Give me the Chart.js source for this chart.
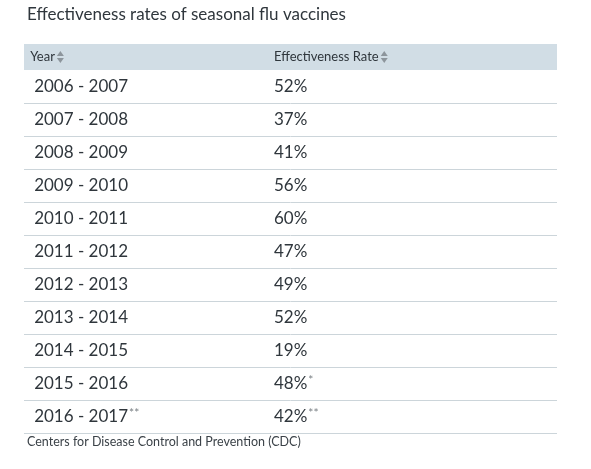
<!DOCTYPE html>
<html>
<head>
<meta charset="utf-8">
<script src="https://cdn.jsdelivr.net/npm/chart.js@4"></script>
<style>
  html, body { margin: 0; padding: 0; background: #fff; }
  #wrap { width: 591px; height: 469px; position: relative; }
</style>
</head>
<body>
<div id="wrap"><canvas id="tbl"></canvas></div>
<script>
const title = 'Effectiveness rates of seasonal flu vaccines';
const headers = ['Year', 'Effectiveness Rate'];
const years = ['2006 - 2007', '2007 - 2008', '2008 - 2009', '2009 - 2010', '2010 - 2011',
  '2011 - 2012', '2012 - 2013', '2013 - 2014', '2014 - 2015', '2015 - 2016', '2016 - 2017'];
const yearNotes = ['', '', '', '', '', '', '', '', '', '', '**'];
const rates = [52, 37, 41, 56, 60, 47, 49, 52, 19, 48, 42];
const rateNotes = ['', '', '', '', '', '', '', '', '', '*', '**'];
const source = 'Centers for Disease Control and Prevention (CDC)';

const FONT = 'Lato, "Open Sans", sans-serif';
const textColor = '#2f363c';
const lineColor = '#ccd5da';
const headBg = '#d1dde5';

function drawNote(ctx, x, y, note) {
  if (!note) return;
  ctx.save();
  ctx.font = '12px ' + FONT;
  ctx.fillStyle = '#7a8085';
  ctx.textBaseline = 'middle';
  ctx.fillText(note, x + 1, y - 3);
  ctx.restore();
}

function drawSortArrows(ctx, x, y) {
  ctx.fillStyle = '#8d959c';
  ctx.beginPath();
  ctx.moveTo(x, y - 1); ctx.lineTo(x + 7, y - 1); ctx.lineTo(x + 3.5, y - 6); ctx.closePath();
  ctx.fill();
  ctx.beginPath();
  ctx.moveTo(x, y + 1); ctx.lineTo(x + 7, y + 1); ctx.lineTo(x + 3.5, y + 6); ctx.closePath();
  ctx.fill();
}

const tablePlugin = {
  id: 'tablePlugin',
  afterDraw(chart) {
    const ctx = chart.ctx;
    const area = chart.chartArea;
    const ys = chart.scales.y;
    const xs = chart.scales.x;
    const col1 = xs.getPixelForValue(0.019);
    const col2 = xs.getPixelForValue(0.469);
    const rowH = ys.getPixelForValue(1) - ys.getPixelForValue(0);

    ctx.save();
    // title
    ctx.fillStyle = textColor;
    ctx.font = '17px ' + FONT;
    ctx.textBaseline = 'middle';
    ctx.fillText(title, 27, 15);

    // header band
    const headTop = area.top - 26;
    ctx.fillStyle = headBg;
    ctx.fillRect(area.left, headTop, area.right - area.left, 26);
    ctx.font = '13px ' + FONT;
    const hy = headTop + 13;
    [col1 - 4, col2].forEach((x, i) => {
      ctx.fillStyle = '#2f363c';
      ctx.fillText(headers[i], x, hy);
      const w = ctx.measureText(headers[i]).width;
      drawSortArrows(ctx, x + w + 2, hy);
    });

    // rows
    years.forEach((yr, i) => {
      const cy = ys.getPixelForValue(i);
      ctx.fillStyle = textColor;
      ctx.font = '17px ' + FONT;
      ctx.fillText(yr, col1, cy);
      let w = ctx.measureText(yr).width;
      drawNote(ctx, col1 + w, cy, yearNotes[i]);
      ctx.fillStyle = textColor;
      ctx.font = '17px ' + FONT;
      const r = rates[i] + '%';
      ctx.fillText(r, col2, cy);
      w = ctx.measureText(r).width;
      drawNote(ctx, col2 + w, cy, rateNotes[i]);
      // row bottom line
      const ly = Math.round(cy + rowH / 2) + 0.5;
      ctx.strokeStyle = lineColor;
      ctx.lineWidth = 1;
      ctx.beginPath();
      ctx.moveTo(area.left, ly);
      ctx.lineTo(area.right, ly);
      ctx.stroke();
    });

    // source
    ctx.fillStyle = '#3b4248';
    ctx.font = '12.5px ' + FONT;
    ctx.fillText(source, area.left + 3, area.bottom + 9);
    ctx.restore();
  }
};

new Chart(document.getElementById('tbl'), {
  type: 'bar',
  data: {
    labels: years,
    datasets: [{
      label: 'Effectiveness Rate',
      data: rates.map(v => v / 100),
      backgroundColor: 'rgba(0,0,0,0)'
    }]
  },
  options: {
    indexAxis: 'y',
    responsive: true,
    maintainAspectRatio: false,
    animation: false,
    events: [],
    layout: { padding: { top: 70, bottom: 36, left: 24, right: 34 } },
    plugins: { legend: { display: false }, tooltip: { enabled: false } },
    scales: {
      x: { type: 'linear', min: 0, max: 1, display: false },
      y: { type: 'category', display: false, offset: true, grid: { offset: true } }
    }
  },
  plugins: [tablePlugin]
});
</script>
</body>
</html>
